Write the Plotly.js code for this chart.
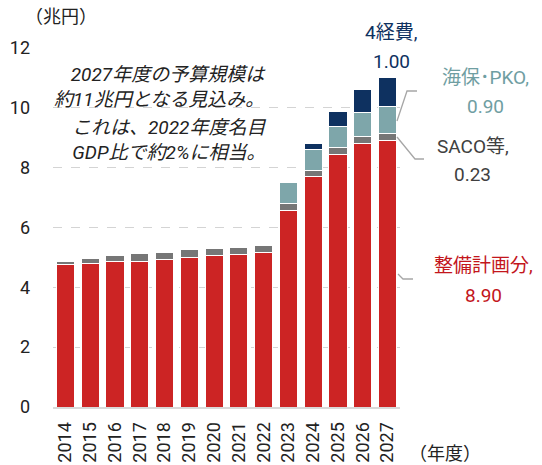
<!DOCTYPE html>
<html>
<head>
<meta charset="utf-8">
<script src="https://cdn.plot.ly/plotly-3.0.1.min.js"></script>
<style>
  html, body { margin: 0; padding: 0; background: #fff; }
  #chart { width: 542px; height: 465px; }
</style>
</head>
<body>
<div id="chart"></div>
<script>
// data (兆円)
const years = ["2014","2015","2016","2017","2018","2019","2020","2021","2022","2023","2024","2025","2026","2027"];
const seibi = [4.77, 4.80, 4.85, 4.88, 4.94, 5.00, 5.06, 5.11, 5.17, 6.58, 7.70, 8.45, 8.80, 8.90];
const saco  = [0.10, 0.17, 0.20, 0.24, 0.24, 0.25, 0.23, 0.21, 0.22, 0.21, 0.20, 0.21, 0.23, 0.23];
const kaiho = [0, 0, 0, 0, 0, 0, 0, 0, 0, 0.72, 0.70, 0.72, 0.81, 0.90];
const yonkeihi = [0, 0, 0, 0, 0, 0, 0, 0, 0, 0, 0.20, 0.50, 0.76, 1.00];

const yTicks = [0, 2, 4, 6, 8, 10, 12];

const FONT = "Roboto, 'Noto Sans CJK JP', sans-serif";
const JP = "'Noto Sans CJK JP', sans-serif";
const RED = "#cc2424", GRAY = "#767676", TEAL = "#7ea6aa", NAVY = "#0e3160";

// plot area in px, for placing labels outside it
const PX = { l: 53, r: 400, t: 48, b: 407 };
const px2x = (x) => (x - PX.l) / (PX.r - PX.l);
const px2y = (y) => (PX.b - y) / (PX.b - PX.t);

function barTrace(name, vals, color) {
  return {
    type: "bar", name: name, x: years, y: vals,
    marker: { color: color, line: { color: "#fff", width: 1 } },
    hoverinfo: "skip"
  };
}

const traces = [
  barTrace("整備計画分", seibi, RED),
  barTrace("SACO等", saco, GRAY),
  barTrace("海保・PKO", kaiho, TEAL),
  barTrace("4経費", yonkeihi, NAVY)
];

function label(text, x, y, color, size, extra) {
  return Object.assign({
    text: text, xref: "paper", yref: "paper", x: px2x(x), y: px2y(y),
    showarrow: false, xanchor: "center", yanchor: "middle",
    font: { family: FONT, size: size || 19, color: color }
  }, extra || {});
}

// series labels (two lines each)
const annotations = [
  label("4経費,", 391, 33, NAVY),
  label("1.00", 391, 61, NAVY),
  label("海保･PKO,", 486, 78, "#6f9ea2"),
  label("0.90", 486, 107, "#6f9ea2"),
  label("SACO等,", 473, 146, "#404040"),
  label("0.23", 473, 174, "#404040"),
  label("整備計画分,", 483, 265, "#c3161c"),
  label("8.90", 483, 295, "#c3161c"),
  label("（兆円）", 61, 15, "#222", 18, { font: { family: JP, size: 18, color: "#222" } }),
  label("（年度）", 445, 452, "#222", 18, { font: { family: JP, size: 18, color: "#222" } })
];

// italic note, two blocks of two lines
const note = ["2027年度の予算規模は<br>約11兆円となる見込み。", "これは、2022年度名目<br>GDP比で約2%に相当。"];
const noteY = [87, 140];
note.forEach((t, i) => {
  annotations.push(label("<i>" + t + "</i>", 268, noteY[i], "#222", 19, { xanchor: "right", align: "right" }));
});

function leader(pts) {
  let d = "";
  pts.forEach((p, i) => { d += (i ? " L " : "M ") + px2x(p[0]) + "," + px2y(p[1]); });
  return { type: "path", xref: "paper", yref: "paper", path: d, line: { color: "#a6a6a6", width: 1.3 } };
}

const shapes = [
  leader([[397, 121], [407, 91], [417, 91]]),
  leader([[397, 137], [415, 159], [424, 159]]),
  leader([[398, 274], [403, 279], [413, 279]])
];

const layout = {
  width: 542, height: 465,
  margin: { l: PX.l, r: 542 - PX.r, t: PX.t, b: 465 - PX.b },
  barmode: "stack",
  bargap: 0.27,
  showlegend: false,
  paper_bgcolor: "#fff",
  plot_bgcolor: "#fff",
  font: { family: FONT, size: 17, color: "#222" },
  xaxis: {
    type: "category",
    tickangle: -90,
    ticklabelstandoff: 6,
    showgrid: false,
    showline: true, linecolor: "#d9d9d9", linewidth: 2,
    ticks: "",
    tickfont: { size: 18, color: "#222" }
  },
  yaxis: {
    range: [0, 12],
    tickvals: yTicks,
    ticktext: yTicks.map(String),
    showgrid: true, gridcolor: "#d4d4d4", griddash: "dash", gridwidth: 1.3,
    zeroline: false,
    showline: false,
    ticks: "",
    ticklabelstandoff: 22,
    tickfont: { size: 18, color: "#222" }
  },
  annotations: annotations,
  shapes: shapes
};

Plotly.newPlot("chart", traces, layout, { staticPlot: true, displayModeBar: false });
</script>
</body>
</html>
